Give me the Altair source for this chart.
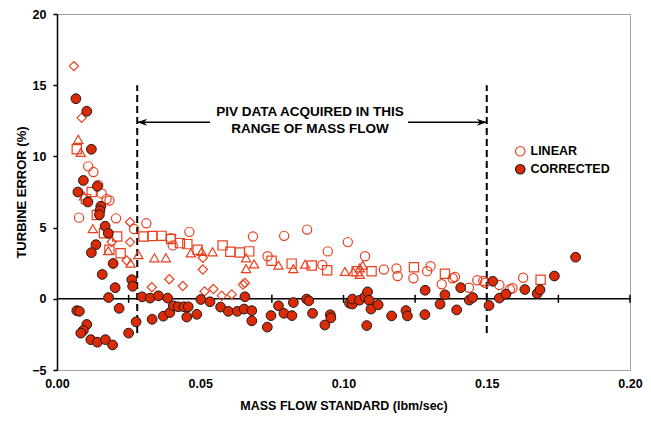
import altair as alt
import pandas as pd

# ---------------- data ----------------
# CORRECTED (filled circles)
cor_x = [0.0066,0.0104,0.0120,0.0092,0.0073,0.0108,0.0141,0.0153,0.0150,0.0148,0.0168,0.0179,0.0136,0.0120,0.0196,0.0158,0.0203,0.0261,0.0264,0.0180,
         0.0217,0.0069,0.0078,0.0104,0.0092,0.0083,0.0118,0.0141,0.0169,0.0194,0.0250,0.0276,0.0297,0.0325,0.0354,0.0386,0.0332,0.0371,0.0394,0.0406,
         0.0423,0.0443,0.0458,0.0453,0.0488,0.0502,0.0534,0.0571,0.0598,0.0629,0.0656,0.0653,0.0680,0.0680,0.0734,0.0747,0.0773,0.0792,0.0820,0.0825,
         0.0871,0.0879,0.0892,0.0935,0.0954,0.0956,0.1021,0.1031,0.1031,0.1056,0.1075,0.1084,0.1089,0.1096,0.1121,0.1081,0.1168,0.1218,0.1223,0.1284,
         0.1285,0.1337,0.1354,0.1395,0.1409,0.1439,0.1451,0.1508,0.1521,0.1544,0.1567,0.1633,0.1676,0.1686,0.1736,0.1810]
cor_y = [14.05,13.17,10.5,8.31,7.5,6.8,7.9,6.5,6.2,5.9,5.1,4.6,3.8,3.24,2.48,1.71,0.78,1.34,0.88,0.09,
         -0.67,-0.83,-0.88,-1.8,-2.22,-2.41,-2.87,-3.05,-2.87,-3.24,-2.41,-1.62,0.14,0.05,0.21,0.05,-1.44,-1.22,-0.97,-0.49,
         -0.56,-0.56,-0.56,-1.28,-1.09,-0.05,-0.21,-0.58,-0.88,-0.88,0.14,-0.72,-0.83,-1.55,-1.99,-1.18,-0.49,-1.02,-1.18,-0.26,
         -0.02,-0.14,-1.02,-1.84,-1.12,-1.34,-0.31,-0.37,-0.02,-0.1,0.14,0.49,-0.1,-0.72,-0.42,-1.88,-1.2,-0.83,-1.2,-1.11,
         0.6,-0.37,0.28,-0.78,0.78,-0.09,0.09,-0.47,1.23,0.05,0.33,0.65,0.37,0.63,1.6,2.92]

# LINEAR (open markers, four symbol sets)
circ_x = [0.0109,0.0127,0.0144,0.0156,0.0173,0.0183,0.0077,0.0206,0.0269,0.0312,0.0404,0.0397,0.0462,0.0684,0.0735,0.0793,0.0873,0.0926,0.0945,
          0.1015,0.1075,0.1141,0.1185,0.1189,0.1244,0.1292,0.1304,0.1343,0.1381,0.1389,0.1438,0.1467,0.1488,0.1494,0.1544,0.1581,0.1590,0.1627]
circ_y = [9.3,8.9,8.0,7.4,7.0,6.9,5.7,5.65,4.9,5.3,3.75,4.26,4.7,4.37,2.99,4.42,4.86,2.38,3.33,
          3.98,2.99,2.06,2.13,1.6,1.44,1.94,2.29,1.02,1.44,1.53,0.78,1.3,1.25,1.13,0.97,0.67,0.74,1.48]

sq_x = [0.0069,0.0121,0.0139,0.0164,0.0210,0.0183,0.0222,0.0302,0.0333,0.0365,0.0398,0.0429,0.0455,0.0491,
        0.0578,0.0605,0.0638,0.0671,0.0749,0.0819,0.0889,0.0943,0.1046,0.1098,0.1246,0.1354,0.1688,0.0101]
sq_y = [10.5,7.5,5.88,4.6,4.37,3.45,3.2,4.37,4.41,4.42,4.2,3.91,3.84,3.45,
        3.75,3.31,3.25,3.33,2.67,2.47,2.34,2.01,1.94,1.94,2.22,1.76,1.34,7.0]

tri_x = [0.0074,0.0083,0.0094,0.0125,0.0179,0.0257,0.0284,0.0340,0.0380,0.0467,0.0505,0.0543,
         0.0660,0.0660,0.0688,0.0773,0.0825,0.0866,0.1005,0.1034,0.1057,0.1067,0.1057]
tri_y = [11.2,10.28,7.22,4.93,3.38,2.5,3.1,2.88,2.88,3.22,3.33,3.3,
         2.88,2.12,2.45,2.36,2.12,2.43,1.92,1.9,2.17,2.36,1.71]

dia_x = [0.0059,0.0086,0.0191,0.0255,0.0255,0.0243,0.0331,0.0392,0.0439,0.0509,0.0509,0.0515,0.0546,0.0575,0.0610,0.0649,0.0656]
dia_y = [16.34,12.71,3.99,5.38,3.98,2.69,0.81,1.37,0.9,2.88,2.06,0.52,0.69,0.21,0.31,1.0,1.11]

series_names = ["LINEAR", "CORRECTED"]

# annotation values
zero_tick_x = [0.025, 0.05, 0.075, 0.10, 0.125, 0.15, 0.175, 0.20]
piv_x = [0.028, 0.15]
piv_y_range = [-2.4, 15.0]
arrow_y = 12.4
arrow_from = [0.0534, 0.1225]
arrow_to = [0.028, 0.15]
note_lines = ["PIV DATA ACQUIRED IN THIS", "RANGE OF MASS FLOW"]
note_y = [13.1, 11.9]
note_x = 0.0883

# ---------------- tables ----------------
lin_rows = []
for shp, xs, ys in [("circle", circ_x, circ_y), ("square", sq_x, sq_y),
                    ("triangle-up", tri_x, tri_y), ("diamond", dia_x, dia_y)]:
    for a, b in zip(xs, ys):
        lin_rows.append({"x": a, "y": b, "shape": shp, "type": "LINEAR"})
lin_df = pd.DataFrame(lin_rows)
cor_df = pd.DataFrame({"x": cor_x, "y": cor_y, "type": ["CORRECTED"] * len(cor_x)})

FONT = "Liberation Sans"
RED_OPEN = "#e8401e"
RED_FILL = "#dc2a06"

xscale = alt.Scale(domain=[0, 0.2], nice=False, zero=False)
yscale = alt.Scale(domain=[-5, 20], nice=False, zero=False)

xenc = alt.X("x:Q", scale=xscale,
             axis=alt.Axis(values=[0, 0.05, 0.10, 0.15, 0.20], format=".2f",
                           title="MASS FLOW STANDARD (lbm/sec)", ticks=False, domain=False,
                           grid=False, labelPadding=7, titlePadding=10, labelFlush=False,
                           titleFontSize=12.5))
yenc = alt.Y("y:Q", scale=yscale,
             axis=alt.Axis(values=[-5, 0, 5, 10, 15, 20], title="TURBINE ERROR (%)", grid=False,
                           tickSize=4, labelPadding=7, titlePadding=3, domainColor="black",
                           tickColor="black", domainWidth=1.5, tickWidth=1.5, labelFlush=False,
                           titleFontSize=13))

legend = alt.Legend(title=None, orient="none", legendX=457, legendY=131,
                    symbolSize=90, symbolStrokeWidth=1.2, labelFont=FONT, labelFontSize=12.5,
                    labelFontWeight="bold", labelColor="black", rowPadding=3, labelOffset=4, padding=0)
fill_enc = alt.Fill("type:N", scale=alt.Scale(domain=series_names, range=["transparent", RED_FILL]), legend=legend)
stroke_enc = alt.Stroke("type:N", scale=alt.Scale(domain=series_names, range=[RED_OPEN, "#1a1a1a"]), legend=legend)

lin_layer = alt.Chart(lin_df).mark_point(filled=True, opacity=1, size=85, strokeWidth=1.2).encode(
    x=xenc, y=yenc, fill=fill_enc, stroke=stroke_enc,
    shape=alt.Shape("shape:N", scale=None, legend=None))

cor_layer = alt.Chart(cor_df).mark_point(filled=True, opacity=1, size=95, strokeWidth=1, shape="circle").encode(
    x=xenc, y=yenc, fill=fill_enc, stroke=stroke_enc)

zero_df = pd.DataFrame({"x": [0.0], "x2": [0.2], "y": [0.0]})
zero_line = alt.Chart(zero_df).mark_rule(color="black", strokeWidth=1.5).encode(
    x=xenc, x2="x2:Q", y=yenc)
ticks_df = pd.DataFrame({"x": zero_tick_x, "y": [0.0] * len(zero_tick_x)})
zero_ticks = alt.Chart(ticks_df).mark_tick(orient="vertical", size=8, thickness=1.5, color="black", opacity=1).encode(
    x=xenc, y=yenc)

piv_df = pd.DataFrame({"x": piv_x, "y": [piv_y_range[0]] * 2, "y2": [piv_y_range[1]] * 2})
piv_lines = alt.Chart(piv_df).mark_rule(color="black", strokeWidth=2, strokeDash=[7, 4]).encode(
    x=xenc, y=yenc, y2="y2:Q")

arr_df = pd.DataFrame({"x": arrow_from, "x2": arrow_to, "y": [arrow_y] * 2})
arr_lines = alt.Chart(arr_df).mark_rule(color="black", strokeWidth=1.5).encode(
    x=xenc, x2="x2:Q", y=yenc)
head_df = pd.DataFrame({"x": arrow_to, "y": [arrow_y] * 2,
                        "shape": ["M0,0 L1,-0.35 L0.7,0 L1,0.35 Z", "M0,0 L-1,-0.35 L-0.7,0 L-1,0.35 Z"]})
arr_heads = alt.Chart(head_df).mark_point(filled=True, opacity=1, size=400, color="black", strokeWidth=0).encode(
    x=xenc, y=yenc, shape=alt.Shape("shape:N", scale=None, legend=None))

note_df = pd.DataFrame({"x": [note_x] * 2, "y": note_y, "t": note_lines})
note = alt.Chart(note_df).mark_text(font=FONT, fontSize=13.5, fontWeight="bold", color="black",
                                    align="center", baseline="middle").encode(
    x=xenc, y=yenc, text="t:N")

chart = alt.layer(zero_line, zero_ticks, piv_lines, arr_lines, arr_heads, note, lin_layer, cor_layer).properties(
    width=573, height=356,
    autosize=alt.AutoSizeParams(type="none"),
    padding={"left": 49, "top": 6, "right": 13, "bottom": 44},
    background="white",
).configure_view(stroke="#a0a0a0", strokeWidth=1).configure_axis(
    labelFont=FONT, labelFontSize=12.5, labelFontWeight="bold", labelColor="black",
    titleFont=FONT, titleFontWeight="bold", titleColor="black",
)

chart.save("out.html", embed_options={"renderer": "svg", "actions": False})
